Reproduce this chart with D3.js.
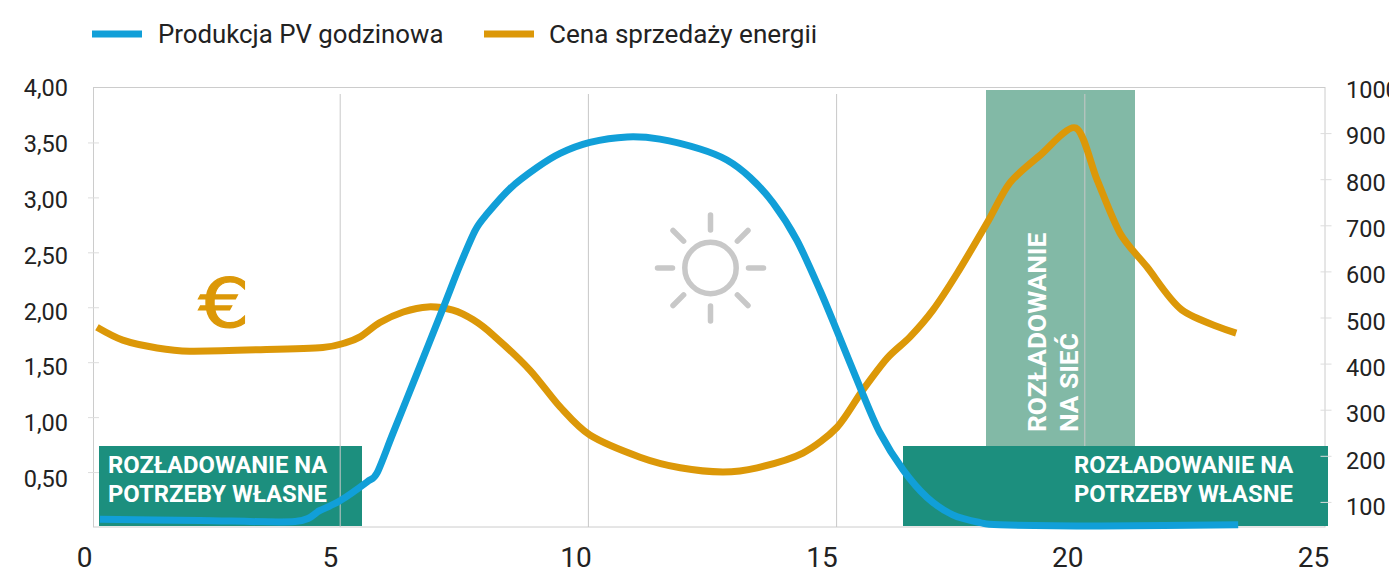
<!DOCTYPE html>
<html>
<head>
<meta charset="utf-8">
<script src="https://d3js.org/d3.v7.min.js"></script>
<style>
  html, body { margin: 0; padding: 0; background: #fff; overflow: hidden; }
  svg { display: block; font-family: Roboto, sans-serif; }
</style>
</head>
<body>
<script>
let width = 1389;
let height = 572;

// hours and values
let pvHours = [0.16, 2.18, 4.09, 4.59, 5.00, 5.54, 5.74, 6.06, 6.55, 7.07, 7.41, 7.72, 7.96, 8.42, 8.96, 9.43, 10.03, 10.78, 11.44, 12.25, 12.79, 13.26, 13.72, 14.20, 14.67, 15.03, 15.51, 15.87, 16.34, 16.82, 17.34, 17.89, 18.29, 20.31, 23.09];
let pvValues = [0.07, 0.06, 0.05, 0.15, 0.24, 0.41, 0.49, 0.85, 1.40, 1.99, 2.38, 2.70, 2.85, 3.08, 3.27, 3.40, 3.50, 3.55, 3.53, 3.44, 3.34, 3.18, 2.95, 2.61, 2.15, 1.76, 1.23, 0.86, 0.52, 0.27, 0.11, 0.04, 0.02, 0.01, 0.02];
let priceHours = [0.10, 0.62, 1.31, 1.97, 3.32, 4.65, 5.10, 5.40, 5.80, 6.27, 6.77, 7.27, 7.68, 8.08, 8.82, 9.43, 10.03, 11.04, 11.85, 12.71, 13.40, 14.32, 15.01, 15.53, 16.02, 16.48, 16.94, 17.43, 18.03, 18.49, 19.10, 19.82, 20.25, 20.71, 21.25, 21.96, 23.05];
let priceValues = [479, 451, 434, 427, 430, 435, 445, 458, 489, 512, 523, 516, 495, 462, 386, 306, 245, 197, 174, 165, 174, 206, 262, 343, 412, 458, 516, 596, 705, 792, 852, 911, 798, 683, 610, 516, 466];

let xTicks = [0, 5, 10, 15, 20, 25];
let leftTicks = [0.5, 1, 1.5, 2, 2.5, 3, 3.5, 4];
let rightTicks = [100, 200, 300, 400, 500, 600, 700, 800, 900, 1000];
let legendNames = ["Produkcja PV godzinowa", "Cena sprzedaży energii"];
let selfUseLabel = ["ROZŁADOWANIE NA", "POTRZEBY WŁASNE"];
let gridLabel = ["ROZŁADOWANIE", "NA SIEĆ"];

let blue = "#119fd8";
let orange = "#dc9808";
let darkGreen = "#1c8f7e";
let lightGreen = "#82b9a6";
let frame = { left: 93.5, right: 1325, top: 87.5, bottom: 527 };

// the tick labels in the picture sit on a slightly different spacing than the marks
let x = d3.scaleLinear().domain([0, 25]).range([92, 1333]);
let xLabels = d3.scaleLinear().domain([0, 25]).range([84, 1313]);
let yLeft = d3.scaleLinear().domain([0, 4]).range([527, 87.5]);
let yLeftLabels = d3.scaleLinear().domain([0, 4]).range([535, 88]);
let yRight = d3.scaleLinear().domain([0, 1000]).range([548, 87]);
let yRightLabels = d3.scaleLinear().domain([0, 1000]).range([553.3, 90]);

let svg = d3.select("body").append("svg").attr("width", width).attr("height", height);

// plot frame
svg.append("rect")
    .attr("x", frame.left).attr("y", frame.top)
    .attr("width", frame.right - frame.left).attr("height", frame.bottom - frame.top)
    .attr("fill", "none").attr("stroke", "#cccccc").attr("stroke-width", 1);

// light band behind the gridlines
svg.append("rect")
    .attr("x", 986).attr("y", 90).attr("width", 149).attr("height", 360)
    .attr("fill", lightGreen);

// left box sits under its gridline
svg.append("rect")
    .attr("x", 99).attr("y", 446).attr("width", 263).attr("height", 80)
    .attr("fill", darkGreen);

svg.append("g")
    .selectAll("line")
    .data(xTicks.slice(1, 5))
    .join("line")
    .attr("x1", d => x(d)).attr("x2", d => x(d))
    .attr("y1", 94).attr("y2", frame.bottom)
    .attr("stroke", "#c8c8c8").attr("stroke-width", 1);

// right box covers the gridline at 20
svg.append("rect")
    .attr("x", 903).attr("y", 446).attr("width", 425).attr("height", 80)
    .attr("fill", darkGreen);

// tick marks
let leftAxis = svg.append("g")
    .attr("transform", `translate(${frame.left},0)`)
    .call(d3.axisLeft(yLeft).tickValues(leftTicks.slice(0, 7)).tickFormat("").tickSize(5));
leftAxis.select(".domain").remove();
leftAxis.selectAll("line").attr("x1", 5.5).attr("x2", -5.5).attr("stroke", "#dddddd");

let rightAxis = svg.append("g")
    .attr("transform", `translate(${frame.right + 1},0)`)
    .call(d3.axisRight(yRight).tickValues(rightTicks.slice(0, 9)).tickFormat("").tickSize(5));
rightAxis.select(".domain").remove();
rightAxis.selectAll("line").attr("x1", -5.5).attr("x2", 5.5).attr("stroke", "#dddddd");

// tick labels
let fmt = d => d.toFixed(2).replace(".", ",");
let leftLabels = svg.append("g")
    .attr("transform", "translate(68,0)")
    .call(d3.axisLeft(yLeftLabels).tickValues(leftTicks).tickFormat(fmt).tickSize(0).tickPadding(0));
let rightLabels = svg.append("g")
    .attr("transform", "translate(1346,0)")
    .call(d3.axisRight(yRightLabels).tickValues(rightTicks).tickFormat(d3.format("d")).tickSize(0).tickPadding(0));
let bottomLabels = svg.append("g")
    .attr("transform", "translate(0,547)")
    .call(d3.axisBottom(xLabels).tickValues(xTicks).tickFormat(d3.format("d")).tickSize(0).tickPadding(0));

[leftLabels, rightLabels].forEach(g => {
    g.select(".domain").remove();
    g.selectAll("text").attr("font-family", "Roboto, sans-serif").attr("font-size", 23.5).attr("fill", "#222222");
});
bottomLabels.select(".domain").remove();
bottomLabels.selectAll("text").attr("font-family", "Roboto, sans-serif").attr("font-size", 28).attr("fill", "#222222");

// series
let priceLine = d3.line()
    .x(d => x(d[0]))
    .y(d => yRight(d[1]))
    .curve(d3.curveCardinal.tension(0.15));
let pvLine = d3.line()
    .x(d => x(d[0]))
    .y(d => yLeft(d[1]))
    .curve(d3.curveCardinal.tension(0.15));

svg.append("path")
    .datum(d3.zip(priceHours, priceValues))
    .attr("d", priceLine)
    .attr("fill", "none").attr("stroke", orange).attr("stroke-width", 7).attr("stroke-linejoin", "round");
svg.append("path")
    .datum(d3.zip(pvHours, pvValues))
    .attr("d", pvLine)
    .attr("fill", "none").attr("stroke", blue).attr("stroke-width", 7).attr("stroke-linejoin", "round");

// box labels
let boxText = (tx, lines) => svg.append("g")
    .selectAll("text")
    .data(lines)
    .join("text")
    .attr("x", tx)
    .attr("y", (d, i) => 473 + i * 29)
    .attr("font-size", 23.8).attr("font-weight", 700).attr("fill", "#ffffff")
    .text(d => d);
boxText(108, selfUseLabel);
boxText(1074, selfUseLabel);

svg.append("g")
    .selectAll("text")
    .data(gridLabel)
    .join("text")
    .attr("transform", (d, i) => `translate(${1046 + i * 32},432) rotate(-90)`)
    .attr("font-size", 26.3).attr("font-weight", 700).attr("fill", "#ffffff")
    .text(d => d);

// euro sign
svg.append("text")
    .attr("transform", "translate(224,327) scale(1.2,1)")
    .attr("text-anchor", "middle")
    .attr("font-family", "DejaVu Sans")
    .attr("font-size", 67).attr("fill", orange)
    .attr("stroke", orange).attr("stroke-width", 1.2)
    .text("€");

// sun icon
let sun = svg.append("g")
    .attr("transform", "translate(710.5,268)")
    .attr("stroke", "#c8c8c8").attr("fill", "none");
sun.append("circle").attr("r", 25.7).attr("stroke-width", 5.5);
sun.selectAll("line")
    .data(d3.range(8))
    .join("line")
    .attr("y1", -38).attr("y2", -53)
    .attr("transform", d => `rotate(${d * 45})`)
    .attr("stroke-width", 5.5).attr("stroke-linecap", "round");

// legend
let legend = svg.append("g")
    .selectAll("g")
    .data(d3.zip(legendNames, [blue, orange], [92, 484]))
    .join("g")
    .attr("transform", d => `translate(${d[2]},34)`);
legend.append("line")
    .attr("x2", 50)
    .attr("stroke", d => d[1]).attr("stroke-width", 7);
legend.append("text")
    .attr("x", (d, i) => 66 - i)
    .attr("y", 9)
    .attr("font-size", (d, i) => 25.8 + i * 0.3).attr("fill", "#222222")
    .text(d => d[0]);
</script>
</body>
</html>
